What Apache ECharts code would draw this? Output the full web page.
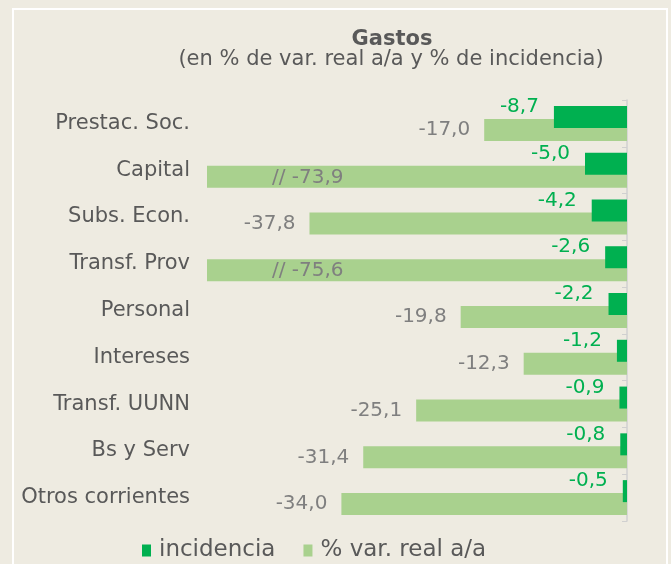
<!DOCTYPE html>
<html>
<head>
<meta charset="utf-8">
<script src="https://cdn.jsdelivr.net/npm/echarts@6/dist/echarts.min.js"></script>
<style>
  html, body { margin: 0; padding: 0; background: #eeebe1; }
  #chart { width: 671px; height: 564px; }
</style>
</head>
<body>
<div id="chart"></div>
<script>
// categorías y valores (en % de var. real a/a y % de incidencia)
const categorias = ['Prestac. Soc.', 'Capital', 'Subs. Econ.', 'Transf. Prov', 'Personal', 'Intereses', 'Transf. UUNN', 'Bs y Serv', 'Otros corrientes'];
const incidencia = [-8.7, -5.0, -4.2, -2.6, -2.2, -1.2, -0.9, -0.8, -0.5];
const variacion = [-17.0, -73.9, -37.8, -75.6, -19.8, -12.3, -25.1, -31.4, -34.0];
// corte del eje: las barras que pasan de este valor se dibujan cortadas con "//"
const ejeMin = -50;

const fmt = v => v.toFixed(1).replace('.', ',');
const font = 'DejaVu Sans';

const chart = echarts.init(document.getElementById('chart'));

const variacionData = variacion.map(v => {
    if (v < ejeMin) {
        return {
            value: ejeMin,
            real: v,
            label: {
                position: 'insideLeft',
                distance: 0,
                offset: [65, 1],
                formatter: '// ' + fmt(v)
            }
        };
    }
    return { value: v, real: v };
});

chart.setOption({
    backgroundColor: '#eeebe1',
    textStyle: { fontFamily: font },
    title: [
        {
            text: 'Gastos',
            left: 387,
            top: 24,
            textAlign: 'center',
            textStyle: { fontSize: 21, fontWeight: 'bold', color: '#595959', fontFamily: font }
        },
        {
            text: '(en % de var. real a/a y % de incidencia)',
            left: 386,
            top: 44,
            textAlign: 'center',
            textStyle: { fontSize: 21, fontWeight: 'normal', color: '#595959', fontFamily: font }
        }
    ],
    graphic: [{
        type: 'rect',
        silent: true,
        shape: { x: 13, y: 9, width: 654, height: 600 },
        style: { fill: 'none', stroke: '#ffffff', lineWidth: 2 }
    }],
    legend: {
        left: 137,
        top: 534,
        itemWidth: 9,
        itemHeight: 12,
        itemGap: 28,
        icon: 'rect',
        data: ['incidencia', '% var. real a/a'],
        textStyle: { fontSize: 23, color: '#595959', fontFamily: font, padding: [0, 0, 0, 3] }
    },
    grid: { left: 207, right: 44, top: 100, bottom: 43 },
    xAxis: {
        type: 'value',
        min: ejeMin,
        max: 0,
        show: false
    },
    yAxis: [
        {
            type: 'category',
            data: categorias,
            inverse: true,
            position: 'left',
            axisLine: { show: false },
            axisTick: { show: false },
            axisLabel: { fontSize: 21, color: '#595959', margin: 17, fontFamily: font, padding: [4, 0, 0, 0] }
        },
        {
            type: 'category',
            data: categorias,
            inverse: true,
            position: 'right',
            axisLine: { show: true, lineStyle: { color: '#d0d0d0', width: 1.5 } },
            axisTick: { show: true, inside: true, length: 5, lineStyle: { color: '#d0d0d0' } },
            axisLabel: { show: false }
        }
    ],
    series: [
        {
            name: 'incidencia',
            type: 'bar',
            yAxisIndex: 0,
            data: incidencia,
            barWidth: 22,
            barGap: '-41%',
            z: 3,
            itemStyle: { color: '#00b050' },
            label: {
                show: true,
                position: 'left',
                distance: 15,
                offset: [0, -10],
                fontSize: 20,
                color: '#00b050',
                fontFamily: font,
                formatter: p => fmt(p.value)
            }
        },
        {
            name: '% var. real a/a',
            type: 'bar',
            yAxisIndex: 0,
            data: variacionData,
            barWidth: 22,
            barGap: '-41%',
            z: 2,
            itemStyle: { color: '#a9d18e' },
            label: {
                show: true,
                position: 'left',
                distance: 14,
                fontSize: 20,
                color: '#7f7f7f',
                fontFamily: font,
                padding: [2, 0, 0, 0],
                formatter: p => fmt(p.data.real)
            }
        }
    ]
});
</script>
</body>
</html>
